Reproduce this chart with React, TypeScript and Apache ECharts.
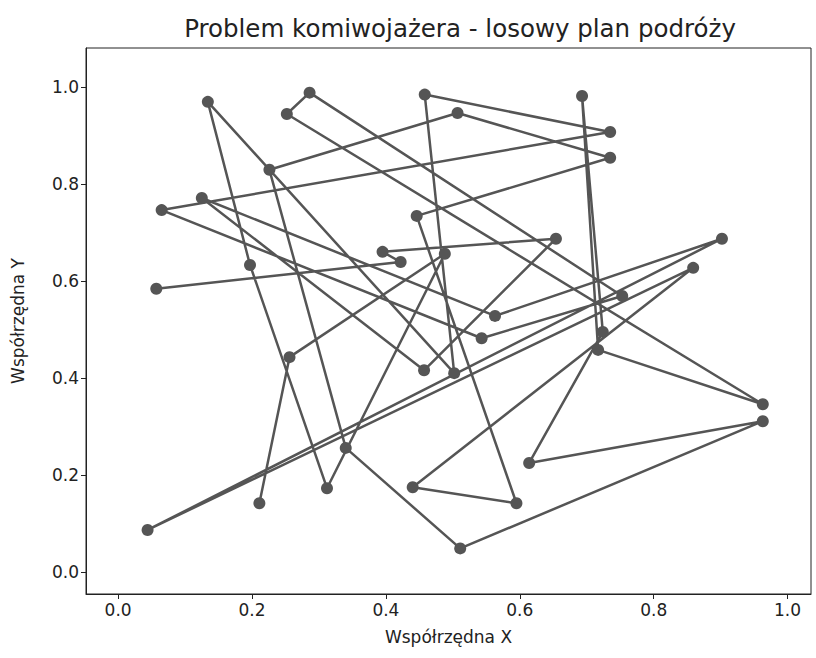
import React, { useEffect, useRef } from "react";
import * as echarts from "echarts";

// Route order (visited cities), x and y coordinates
const routeX = [0.057, 0.422, 0.395, 0.654, 0.457, 0.125, 0.563, 0.902, 0.044, 0.859, 0.440, 0.595, 0.446, 0.735, 0.507, 0.226, 0.340, 0.511, 0.963, 0.614, 0.724, 0.693, 0.717, 0.963, 0.252, 0.286, 0.753, 0.543, 0.065, 0.735, 0.458, 0.502, 0.134, 0.197, 0.312, 0.488, 0.256, 0.211];
const routeY = [0.584, 0.639, 0.660, 0.687, 0.416, 0.771, 0.528, 0.687, 0.087, 0.627, 0.175, 0.142, 0.734, 0.854, 0.946, 0.829, 0.256, 0.049, 0.311, 0.225, 0.495, 0.981, 0.458, 0.346, 0.944, 0.988, 0.569, 0.482, 0.746, 0.907, 0.984, 0.410, 0.969, 0.633, 0.173, 0.656, 0.443, 0.142];
const tickValues = [0, 0.2, 0.4, 0.6, 0.8, 1.0];

const FONT = "DejaVu Sans";

export default function App() {
  const ref = useRef<HTMLDivElement>(null);
  useEffect(() => {
    if (!ref.current) return;
    const chart = echarts.init(ref.current, undefined, { renderer: "svg" });
    const data = routeX.map((x, i) => [x, routeY[i]]);
    const axisCommon = {
      type: "value",
      nameLocation: "middle",
      nameTextStyle: { fontFamily: FONT, fontSize: 17, color: "#222" },
      axisLine: { show: true, onZero: false, lineStyle: { color: "#222" } },
      axisTick: { show: true, inside: false, length: 5, customValues: tickValues, lineStyle: { color: "#222" } },
      axisLabel: {
        customValues: tickValues,
        formatter: (v: number) => v.toFixed(1),
        fontFamily: FONT,
        fontSize: 17,
        color: "#222",
        margin: 7,
      },
      splitLine: { show: false },
    };
    chart.setOption({
      animation: false,
      backgroundColor: "#ffffff",
      title: {
        text: "Problem komiwojażera - losowy plan podróży",
        left: 455,
        textAlign: "center",
        top: 11,
        textStyle: { fontFamily: FONT, fontSize: 24.5, fontWeight: "normal", color: "#222" },
      },
      grid: {
        left: 86,
        right: 5,
        top: 48,
        bottom: 64,
        containLabel: false,
        outerBoundsMode: "none",
        show: true,
        borderColor: "#222",
        borderWidth: 1,
      },
      xAxis: { ...axisCommon, min: -0.048, max: 1.035, name: "Współrzędna X", nameGap: 34 },
      yAxis: { ...axisCommon, min: -0.045, max: 1.08, name: "Współrzędna Y", nameGap: 60 },
      series: [
        {
          type: "line",
          data,
          symbol: "circle",
          symbolSize: 12,
          lineStyle: { color: "#555555", width: 2.5 },
          itemStyle: { color: "#555555" },
          z: 3,
        },
      ],
    });
    return () => chart.dispose();
  }, []);
  return <div ref={ref} style={{ width: 816, height: 658, position: "absolute", left: 0, top: 0 }} />;
}
